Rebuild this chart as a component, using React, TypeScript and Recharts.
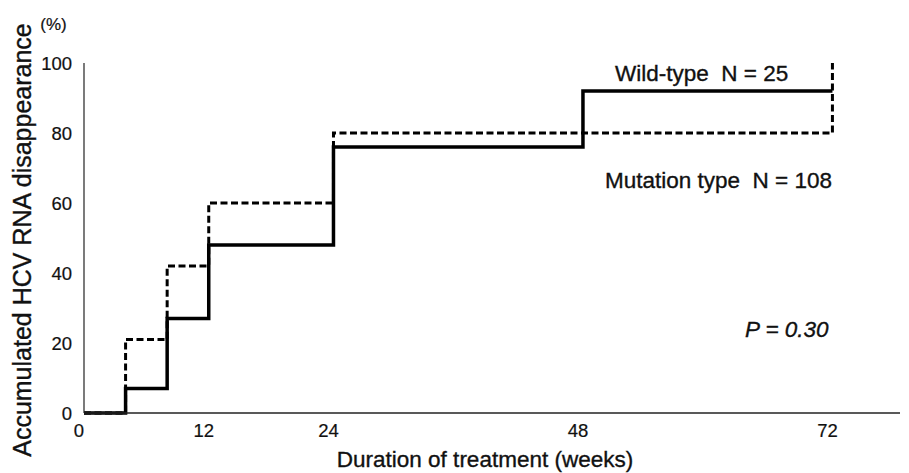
import * as React from "react";
import { Customized, Line, LineChart, XAxis, YAxis } from "recharts";

// 投与週（ステップの変化点）
const weeks = [0, 4, 8, 12, 24, 48, 72];
// 累積 HCV RNA 消失率（%）
const wildType = [0, 7, 27, 48, 76, 92, 92];
const mutationType = [0, 21, 42, 60, 80, 80, 100];

const xTicks = [0, 12, 24, 48, 72];
const yTicks = [0, 20, 40, 60, 80, 100];

const FONT = '"Liberation Sans", Arial, Helvetica, sans-serif';
const INK = "#111";

const data = weeks.map((w, i) => ({ week: w, wild: wildType[i], mutation: mutationType[i] }));

/// 軸タイトルと注記（図の固定位置に置く）。スキャン図の太めの字面に寄せて薄く縁取る。
function Annotations(): React.ReactElement {
  return (
    <g fontFamily={FONT} fill={INK} stroke={INK} strokeWidth={0.35}>
      <text x={30.5} y={240} fontSize={25} textAnchor="middle" transform="rotate(-90, 30.5, 240)">
        Accumulated HCV RNA disappearance
      </text>
      <text x={53.5} y={30} fontSize={17} textAnchor="middle" strokeWidth={0.2}>
        (%)
      </text>
      <text x={485} y={467} fontSize={22.5} textAnchor="middle">
        Duration of treatment (weeks)
      </text>
      <text x={615} y={80.5} fontSize={22.5} style={{ whiteSpace: "pre" }}>
        {"Wild-type  N = 25"}
      </text>
      <text x={605} y={188} fontSize={22.5} style={{ whiteSpace: "pre" }}>
        {"Mutation type  N = 108"}
      </text>
      <text x={745} y={336.5} fontSize={22.5} fontStyle="italic">
        P = 0.30
      </text>
    </g>
  );
}

export default function App(): React.ReactElement {
  return (
    <div style={{ position: "absolute", left: 0, top: 0, width: 909, height: 473, background: "#fff" }}>
      <LineChart width={909} height={473} data={data} margin={{ top: 63, right: 9, bottom: 30, left: 0 }}>
        <XAxis
          dataKey="week"
          type="number"
          domain={[0, 78.5]}
          ticks={xTicks}
          tickLine={false}
          axisLine={{ stroke: "#222", strokeWidth: 1.6 }}
          tickMargin={5}
          height={30}
          tick={{ fill: INK, stroke: INK, strokeWidth: 0.2, fontSize: 18.5, fontFamily: FONT, dx: -5 }}
        />
        <YAxis
          type="number"
          domain={[0, 100]}
          ticks={yTicks}
          tickLine={false}
          axisLine={{ stroke: "#222", strokeWidth: 1.2 }}
          tickMargin={6}
          width={84}
          tick={{ fill: INK, stroke: INK, strokeWidth: 0.2, fontSize: 18.5, fontFamily: FONT }}
        />
        <Line
          dataKey="mutation"
          type="stepAfter"
          stroke="#000"
          strokeWidth={3}
          strokeDasharray="7 3.5"
          dot={false}
          activeDot={false}
          isAnimationActive={false}
        />
        <Line
          dataKey="wild"
          type="stepAfter"
          stroke="#000"
          strokeWidth={3.5}
          dot={false}
          activeDot={false}
          isAnimationActive={false}
        />
        <Customized component={Annotations} />
      </LineChart>
    </div>
  );
}
